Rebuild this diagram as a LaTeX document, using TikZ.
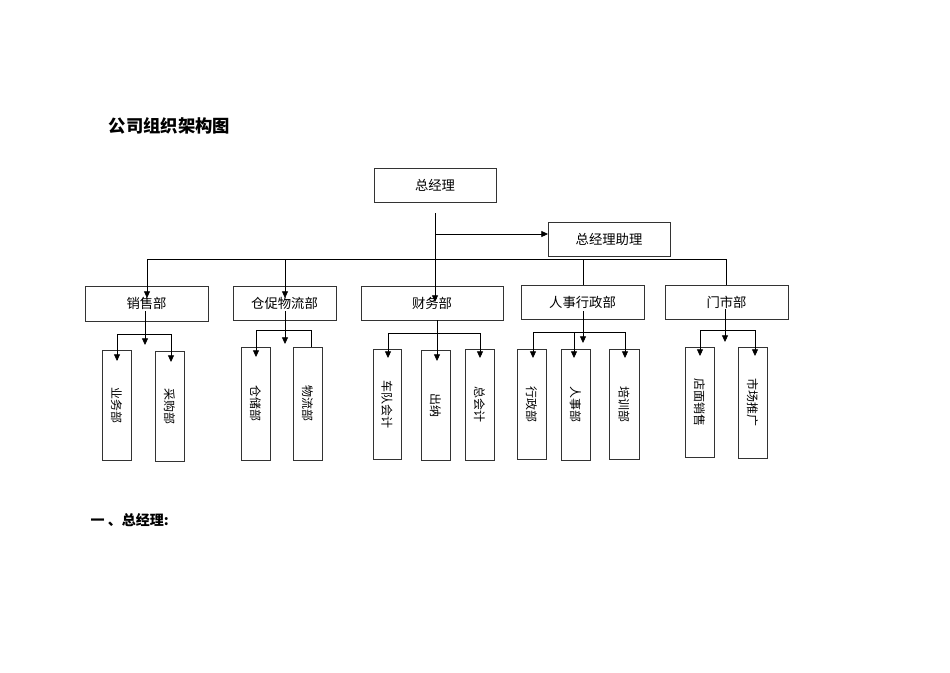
\documentclass[tikz,border=0pt]{standalone}
\usepackage{fontspec}
\setmainfont{Noto Sans CJK SC}
\usetikzlibrary{arrows.meta}
\begin{document}
\begin{tikzpicture}[x=0.75pt,y=-0.75pt,
  bx/.style={draw=black!80,line width=0.6pt,inner sep=0pt},
  ln/.style={line width=0.6pt},
  ar/.style={ln,-{Triangle[length=5pt,width=4.5pt]}},
  vt/.style={rotate=-90,font=\fontsize{9}{9}\selectfont}]
\useasboundingbox (0,0) rectangle (950,672);
\node[font=\bfseries\fontsize{13}{13}\selectfont,anchor=west] (title) at (104,126) {公司组织架构图};
\node[font=\bfseries\fontsize{10.5}{10.5}\selectfont,anchor=west] (sec) at (86,520) {一 、总经理:};
\def\B#1#2#3#4#5#6{\draw[bx] (#2,#3) rectangle (#4,#5); \node[font=\fontsize{10}{10}\selectfont] (#1) at ({(#2+#4)/2},{(#3+#5)/2}) {#6};}
\def\V#1#2#3#4#5#6{\draw[bx] (#2,#3) rectangle (#4,#5); \node[vt] (#1) at ({(#2+#4)/2},{(#3+#5)/2}) {#6};}
\B{gm}{374}{168}{496}{202}{总经理}
\B{asst}{548}{222}{670}{256}{总经理助理}
\B{xs}{85}{286}{208}{321}{销售部}
\B{cc}{233}{286}{336}{320}{仓促物流部}
\B{cw}{361}{286}{503}{320}{财务部}
\B{rs}{521}{285}{644}{319}{人事行政部}
\B{ms}{665}{285}{788}{319}{门市部}
\V{yw}{102}{350}{131}{460}{业务部}
\V{cg}{155}{351}{184}{461}{采购部}
\V{ccb}{241}{347}{270}{460}{仓储部}
\V{wl}{293}{347}{322}{460}{物流部}
\V{cd}{373}{349}{401}{459}{车队会计}
\V{cn}{421}{350}{450}{460}{出纳}
\V{zk}{465}{349}{494}{460}{总会计}
\V{xz}{517}{349}{546}{459}{行政部}
\V{rsb}{561}{349}{590}{460}{人事部}
\V{px}{609}{349}{639}{459}{培训部}
\V{dm}{685}{347}{714}{457}{店面销售}
\V{sc}{738}{347}{767}{458}{市场推广}
% top
\draw[ar] (435,213) -- (435,302);
\draw[ar] (435,234) -- (548,234);
\draw[ln] (147,259) -- (726,259);
\draw[ar] (147,259) -- (147,298);
\draw[ar] (285,259) -- (285,298);
\draw[ln] (583,259) -- (583,285);
\draw[ln] (726,259) -- (726,285);
% 销售
\draw[ar] (145,311) -- (145,345);
\draw[ln] (117,360) -- (117,334) -- (171,334) -- (171,360);
\draw[ar] (117,334) -- (117,361);
\draw[ar] (171,334) -- (171,362);
% 仓促
\draw[ar] (285,311) -- (285,344);
\draw[ln] (256,330) -- (311,330) -- (311,347);
\draw[ar] (256,330) -- (256,357);
% 财务
\draw[ar] (437,320) -- (437,361);
\draw[ln] (388,333) -- (480,333);
\draw[ar] (388,333) -- (388,358);
\draw[ar] (480,333) -- (480,358);
% 人事
\draw[ar] (583,311) -- (583,343);
\draw[ln] (533,332) -- (625,332);
\draw[ar] (533,332) -- (533,358);
\draw[ar] (574,332) -- (574,358);
\draw[ar] (625,332) -- (625,358);
% 门市
\draw[ar] (725,309) -- (725,342);
\draw[ln] (700,330) -- (755,330);
\draw[ar] (700,330) -- (700,356);
\draw[ar] (755,330) -- (755,356);
\end{tikzpicture}
\end{document}
